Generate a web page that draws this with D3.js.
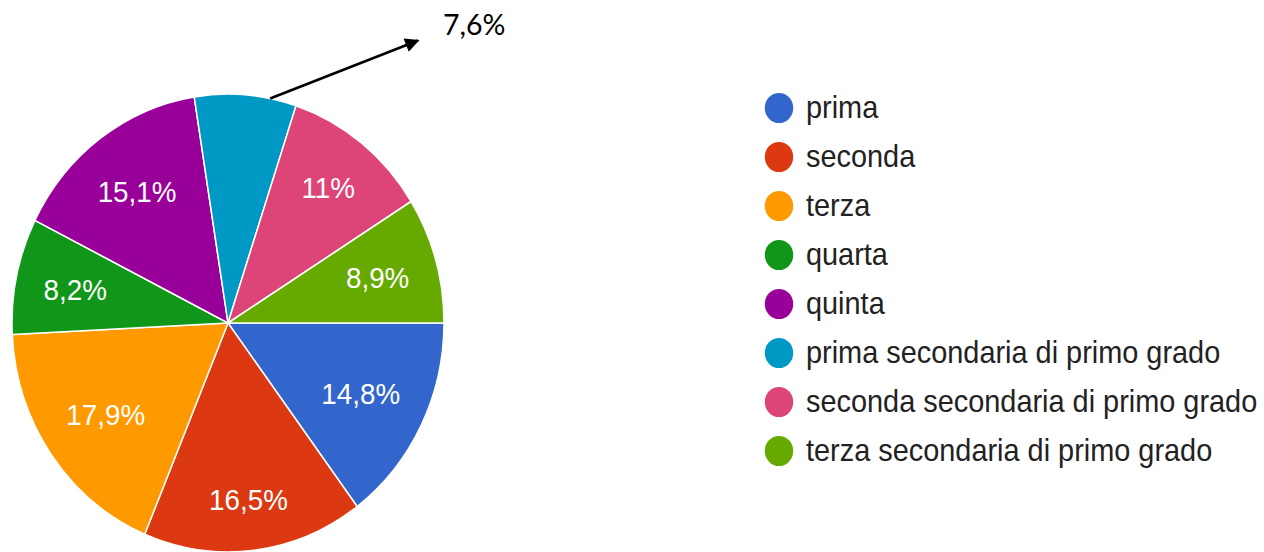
<!DOCTYPE html>
<html>
<head>
<meta charset="utf-8">
<script src="https://cdn.jsdelivr.net/npm/d3@7/dist/d3.min.js"></script>
<style>
  html, body { margin: 0; padding: 0; background: #ffffff; }
  svg { display: block; }
</style>
</head>
<body>
<svg id="chart" width="1264" height="552"></svg>
<script>
// ---- data ----
const categories = [
  "prima", "seconda", "terza", "quarta", "quinta",
  "prima secondaria di primo grado",
  "seconda secondaria di primo grado",
  "terza secondaria di primo grado"
];
const values = [14.8, 16.5, 17.9, 8.2, 15.1, 7.6, 11, 8.9];
const colors = ["#3366cc", "#dc3912", "#ff9900", "#109618", "#990099", "#0099c6", "#dd4477", "#66aa00"];
const calloutIndex = 5; // slice labelled outside with an arrow

// ---- layout ----
const W = 1264, H = 552;
const sy = 1.06;               // vertical stretch of the original screenshot
const cx = 228, cyScreen = 323;
const cy = cyScreen / sy;
const R = 216;
const fmt = v => String(v).replace(".", ",") + "%";

const svg = d3.select("#chart");
const g = svg.append("g").attr("transform", `scale(1,${sy})`);

const pie = d3.pie().sort(null).value(d => d)
  .startAngle(Math.PI / 2).endAngle(Math.PI / 2 + 2 * Math.PI);
const arcs = pie(values);
const arc = d3.arc().innerRadius(0).outerRadius(R);

const pieG = g.append("g").attr("transform", `translate(${cx},${cy})`);
pieG.selectAll("path.slice").data(arcs).enter().append("path")
  .attr("class", "slice")
  .attr("d", arc)
  .attr("fill", (d, i) => colors[i])
  .attr("stroke", "#ffffff")
  .attr("stroke-width", 1.5)
  .attr("stroke-linejoin", "round");

// labels inside slices (Google-style: push box outward until its far corner hits a ring)
const fontFamily = "'Liberation Sans', Arial, sans-serif";
const labelFs = 27.8;
const L = 0.88 * R;
const hh = 14;
arcs.forEach((d, i) => {
  if (i === calloutIndex) return;
  const t = pieG.append("text")
    .text(fmt(values[i]))
    .attr("font-family", fontFamily)
    .attr("font-size", labelFs)
    .attr("fill", "#ffffff")
    .attr("text-anchor", "middle");
  const hw = t.node().getComputedTextLength() / 2;
  const mid = (d.startAngle + d.endAngle) / 2; // d3: 0 = 12 o'clock, clockwise
  const ux = Math.sin(mid), uy = -Math.cos(mid);
  const B = Math.abs(ux) * hw + Math.abs(uy) * hh;
  const dist = -B + Math.sqrt(B * B - (hw * hw + hh * hh - L * L));
  t.attr("x", ux * dist).attr("y", uy * dist + 0.36 * labelFs);
});

// ---- legend ----
const legX = 779, legY0 = 108 / sy, legStep = 49 / sy, dotR = 14.2;
const leg = g.append("g");
const rows = leg.selectAll("g.row").data(categories).enter().append("g")
  .attr("class", "row")
  .attr("transform", (d, i) => `translate(${legX},${legY0 + i * legStep})`);
rows.append("circle").attr("r", dotR).attr("fill", (d, i) => colors[i]);
rows.append("text")
  .attr("x", 27).attr("y", 9.5)
  .attr("font-family", fontFamily)
  .attr("font-size", 28.9)
  .attr("fill", "#222222")
  .text(d => d);

// ---- callout arrow for the small slice ----
const cs = arcs[calloutIndex];
const aAng = cs.startAngle + 0.74 * (cs.endAngle - cs.startAngle);
const x0 = cx + Math.sin(aAng) * R;
const y0 = (cy - Math.cos(aAng) * R) * sy;
const x1 = x0 + 148, y1 = y0 - 58;

const defs = svg.append("defs");
defs.append("marker")
  .attr("id", "arrow")
  .attr("viewBox", "0 0 10 10")
  .attr("refX", 9).attr("refY", 5)
  .attr("markerWidth", 7).attr("markerHeight", 5.5)
  .attr("orient", "auto")
  .attr("markerUnits", "strokeWidth")
  .append("path").attr("d", "M0,0 L10,5 L0,10 z").attr("fill", "#000");

svg.append("line")
  .attr("x1", x0).attr("y1", y0)
  .attr("x2", x1).attr("y2", y1)
  .attr("stroke", "#000").attr("stroke-width", 2.6)
  .attr("marker-end", "url(#arrow)");

svg.append("text")
  .attr("x", 443).attr("y", 35)
  .attr("font-family", "Lato, 'Open Sans', sans-serif")
  .attr("font-size", 28.5)
  .attr("fill", "#000")
  .text(fmt(values[calloutIndex]));
</script>
</body>
</html>
